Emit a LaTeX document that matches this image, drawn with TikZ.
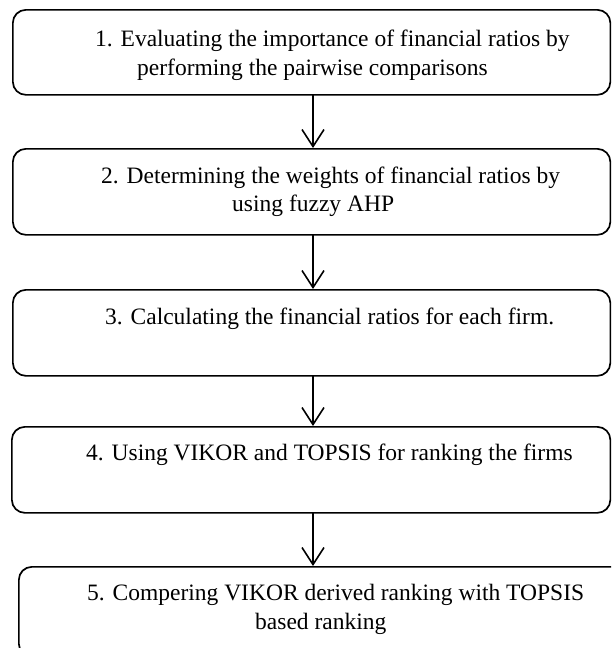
\documentclass[tikz,border=0pt]{standalone}
\usepackage{fontspec}
\setmainfont{Liberation Serif}
\usetikzlibrary{arrows.meta}
\tikzset{
  stepbox/.style={draw=black, line width=1.7pt, rounded corners=13pt, inner sep=0pt, anchor=north west},
  steptext/.style={anchor=base west, inner sep=0pt, font=\fontsize{23.5}{28}\selectfont},
  flow/.style={line width=1.6pt, -{Straight Barb[length=17pt,width=22pt,line width=1.6pt]}}
}
\begin{document}
\begin{tikzpicture}[x=1pt,y=1pt]
  \useasboundingbox (0,0) rectangle (611,-648);
  \clip (0,0) rectangle (611,-648);
  \fill[white] (0,0) rectangle (611,-648);

  % step boxes
  \node[stepbox, minimum width=597.5pt, minimum height=85pt] (b1) at (12,-9) {};
  \node[stepbox, minimum width=597.5pt, minimum height=86pt] (b2) at (12,-148) {};
  \node[stepbox, minimum width=597.5pt, minimum height=86pt] (b3) at (12,-289) {};
  \node[stepbox, minimum width=598.5pt, minimum height=86pt] (b4) at (11,-426) {};
  \node[stepbox, minimum width=612pt, minimum height=90pt] (b5) at (18,-566) {};

  % step texts
  \node[steptext] (t1a) at (95,-46) {1. Evaluating the importance of financial ratios by};
  \node[steptext] (t1b) at (137,-75) {performing the pairwise comparisons};
  \node[steptext] (t2a) at (101,-183) {2. Determining the weights of financial ratios by};
  \node[steptext] (t2b) at (232,-211) {using fuzzy AHP};
  \node[steptext] (t3) at (105,-324) {3. Calculating the financial ratios for each firm.};
  \node[steptext] (t4) at (86,-460) {4. Using VIKOR and TOPSIS for ranking the firms};
  \node[steptext] (t5a) at (87,-600) {5. Compering VIKOR derived ranking with TOPSIS};
  \node[steptext] (t5b) at (255,-629) {based ranking};

  % connectors
  \coordinate (a1) at (313,-94);
  \coordinate (a2) at (313,-234);
  \coordinate (a3) at (313,-375);
  \coordinate (a4) at (313,-512);
  \draw[flow] (a1) -- (a1 |- b2.north);
  \draw[flow] (a2) -- (a2 |- b3.north);
  \draw[flow] (a3) -- (a3 |- b4.north);
  \draw[flow] (a4) -- (a4 |- b5.north);
\end{tikzpicture}
\end{document}
